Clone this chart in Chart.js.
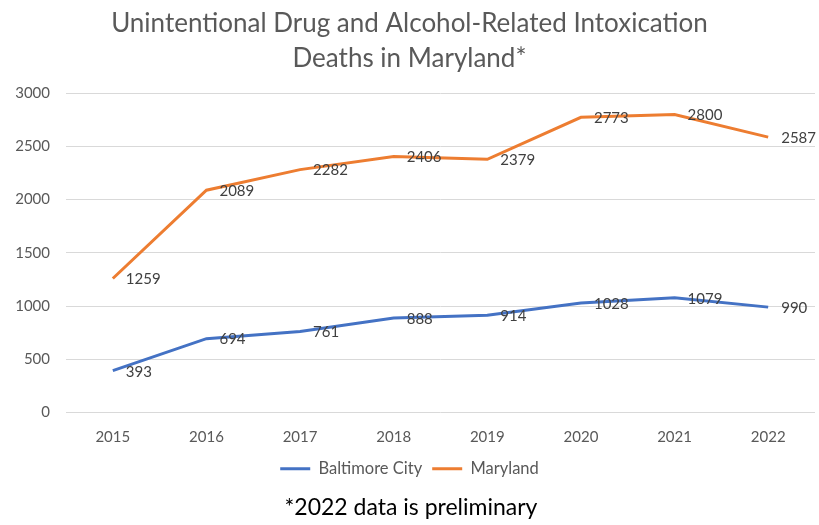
<!DOCTYPE html>
<html>
<head>
<meta charset="utf-8">
<script src="https://cdn.jsdelivr.net/npm/chart.js@4/dist/chart.umd.min.js"></script>
<style>
  html, body { margin: 0; padding: 0; background: #fff; }
  #wrap { width: 819px; height: 525px; }
</style>
</head>
<body>
<div id="wrap"><canvas id="deathsChart" width="819" height="525"></canvas></div>
<script>
const years = ["2015", "2016", "2017", "2018", "2019", "2020", "2021", "2022"];
const baltimoreCity = [393, 694, 761, 888, 914, 1028, 1079, 990];
const maryland = [1259, 2089, 2282, 2406, 2379, 2773, 2800, 2587];
const yTicks = [0, 500, 1000, 1500, 2000, 2500, 3000];

const FONT = "Lato, 'Open Sans', sans-serif";

// value labels to the right of each point, like the spreadsheet default
const valueLabels = {
  id: "valueLabels",
  afterDatasetsDraw(chart) {
    const ctx = chart.ctx;
    ctx.save();
    ctx.font = "15px " + FONT;
    ctx.fillStyle = "#404040";
    ctx.textAlign = "left";
    ctx.textBaseline = "middle";
    chart.data.datasets.forEach((ds, i) => {
      chart.getDatasetMeta(i).data.forEach((pt, j) => {
        ctx.fillText(String(ds.data[j]), pt.x + 13, pt.y + 1);
      });
    });
    ctx.restore();
  }
};

const footnote = {
  id: "footnote",
  afterDraw(chart) {
    const ctx = chart.ctx;
    ctx.save();
    ctx.font = "23px " + FONT;
    ctx.fillStyle = "#000";
    ctx.textAlign = "center";
    ctx.textBaseline = "middle";
    ctx.fillText("*2022 data is preliminary", 411, 508);
    ctx.restore();
  }
};

const config = {
  type: "line",
  data: {
    labels: years,
    datasets: [
      {
        label: "Baltimore City",
        data: baltimoreCity,
        borderColor: "#4472C4",
        backgroundColor: "#4472C4",
        borderWidth: 3,
        pointRadius: 0,
        tension: 0,
      },
      {
        label: "Maryland",
        data: maryland,
        borderColor: "#ED7D31",
        backgroundColor: "#ED7D31",
        borderWidth: 3,
        pointRadius: 0,
        tension: 0,
      },
    ],
  },
  options: {
    responsive: false,
    animation: false,
    layout: { padding: { left: 4, right: 4, bottom: 38, top: 0 } },
    plugins: {
      title: {
        display: true,
        text: ["Unintentional Drug and Alcohol-Related Intoxication", "Deaths in Maryland*"],
        color: "#595959",
        font: { family: FONT, size: 26, weight: "normal", lineHeight: 1.35 },
        padding: { top: 6, bottom: 17 },
      },
      legend: {
        position: "bottom",
        labels: {
          usePointStyle: true,
          pointStyle: "line",
          pointStyleWidth: 30,
          color: "#595959",
          font: { family: FONT, size: 16.5 },
          padding: 10,
        },
      },
      tooltip: { enabled: false },
    },
    scales: {
      x: {
        offset: true,
        grid: { display: false, drawTicks: false },
        border: { display: false },
        ticks: { color: "#595959", font: { family: FONT, size: 15 }, padding: 16 },
        afterFit(scale) { scale.height = 38; },
      },
      y: {
        min: 0,
        max: 3000,
        afterBuildTicks(scale) {
          scale.ticks = yTicks.map(v => ({ value: v }));
        },
        grid: { color: "#d9d9d9", lineWidth: 1, drawTicks: false },
        border: { display: false },
        ticks: {
          color: "#595959",
          font: { family: FONT, size: 15 },
          padding: 16,
          callback: v => String(v),
        },
        afterFit(scale) { scale.width = 62; },
      },
    },
  },
  plugins: [valueLabels, footnote],
};

new Chart(document.getElementById("deathsChart"), config);
</script>
</body>
</html>
